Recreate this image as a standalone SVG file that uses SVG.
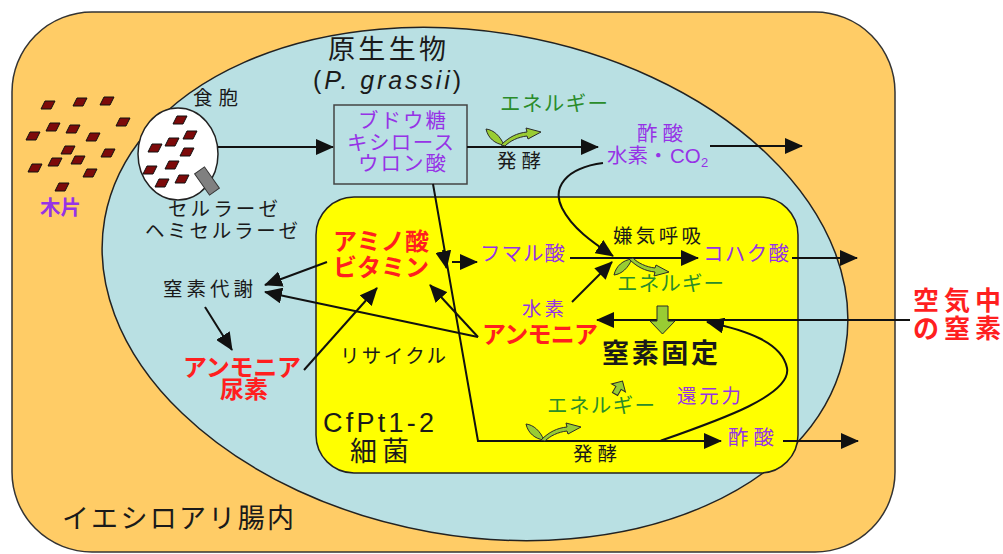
<svg xmlns="http://www.w3.org/2000/svg" xmlns:xlink="http://www.w3.org/1999/xlink" width="1003" height="554" viewBox="0 0 1003 554">
  <style>
    text { font-family: "Noto Sans CJK JP", "Noto Sans", sans-serif; fill: #1a1a1a; }
    .lat { font-family: "Liberation Sans", Arial, sans-serif; }
    .pur { fill: #9633e6; }
    .red { fill: #ff1f1f; font-weight: bold; }
    .grn { fill: #2a8c2a; }
    .s18 { font-size: 19.5px; }
    .s19 { font-size: 20.5px; }
    .s23 { font-size: 24px; }
    .s26 { font-size: 27px; }
    .ln { fill: none; stroke: #111; stroke-width: 2; }
    .arr { marker-end: url(#ah); }
    .leaf { fill: #99cc33; stroke: #2a2a2a; stroke-width: 1; }
    .chip { fill: #7d0a0a; stroke: #111; stroke-width: 1; }
  </style>
  <defs>
    <marker id="ah" viewBox="0 0 18 16" refX="17" refY="8" markerWidth="18" markerHeight="16" markerUnits="userSpaceOnUse" orient="auto">
      <path d="M0,0 L18,8 L0,16 Z" fill="#111"/>
    </marker>
    <polygon id="chipShape" class="chip" points="-7,4 -3,-4 7,-4 3,4"/>
    <!-- energy release symbol: leaf plus curved arrow -->
    <g id="energy">
      <path class="leaf" d="M1,1 C9,2 15,8 19,17 C10,16 3,10 1,1 Z"/>
      <path class="leaf" d="M16,17 C24,9 32,5 42,4 L41,0 L56,4 L43,11 L42,8 C33,9 25,13 20,18 Z"/>
    </g>
  </defs>

  <rect width="1003" height="554" fill="#ffffff"/>

  <!-- termite gut -->
  <g id="gut">
    <rect x="12" y="12" width="883" height="540" rx="80" ry="80" fill="#ffcc66" stroke="#333" stroke-width="1.5"/>
    <text class="s26" x="62" y="528" textLength="232" lengthAdjust="spacing">イエシロアリ腸内</text>
  </g>

  <!-- wood chips -->
  <g id="wood">
    <use xlink:href="#chipShape" x="48" y="105"/>
    <use xlink:href="#chipShape" x="80" y="102"/>
    <use xlink:href="#chipShape" x="107" y="101"/>
    <use xlink:href="#chipShape" x="123" y="122"/>
    <use xlink:href="#chipShape" x="53" y="127"/>
    <use xlink:href="#chipShape" x="73" y="129"/>
    <use xlink:href="#chipShape" x="33" y="136"/>
    <use xlink:href="#chipShape" x="93" y="137"/>
    <use xlink:href="#chipShape" x="68" y="150"/>
    <use xlink:href="#chipShape" x="108" y="153"/>
    <use xlink:href="#chipShape" x="55" y="162"/>
    <use xlink:href="#chipShape" x="78" y="160"/>
    <use xlink:href="#chipShape" x="35" y="168"/>
    <use xlink:href="#chipShape" x="90" y="173"/>
    <use xlink:href="#chipShape" x="62" y="187"/>
    <text class="pur s19" x="40" y="215" textLength="41" lengthAdjust="spacing" font-weight="bold">木片</text>
  </g>

  <!-- protist -->
  <g id="protist">
    <ellipse cx="475" cy="284" rx="376" ry="252" transform="rotate(10 475 284)" fill="#b9e0e3" stroke="#222" stroke-width="1.5"/>
    <text class="s26" x="328" y="59" textLength="118" lengthAdjust="spacing">原生生物</text>
    <text class="lat" x="313" y="89" font-size="25" textLength="148" lengthAdjust="spacing">(<tspan font-style="italic">P. grassii</tspan>)</text>
  </g>

  <!-- food vacuole -->
  <g id="vacuole">
    <ellipse cx="178" cy="154" rx="40" ry="46" fill="#ffffff" stroke="#222" stroke-width="1.5"/>
    <use xlink:href="#chipShape" x="180" y="120"/>
    <use xlink:href="#chipShape" x="190" y="135"/>
    <use xlink:href="#chipShape" x="172" y="142"/>
    <use xlink:href="#chipShape" x="155" y="148"/>
    <use xlink:href="#chipShape" x="187" y="152"/>
    <use xlink:href="#chipShape" x="172" y="165"/>
    <use xlink:href="#chipShape" x="150" y="170"/>
    <use xlink:href="#chipShape" x="162" y="183"/>
    <use xlink:href="#chipShape" x="182" y="179"/>
    <rect x="201" y="168" width="12" height="26" fill="#808080" stroke="#333" stroke-width="1" transform="rotate(-35 207 181)"/>
    <text class="s18" x="193" y="105" textLength="45" lengthAdjust="spacing">食胞</text>
    <text class="s18" x="168" y="216" textLength="110" lengthAdjust="spacing">セルラーゼ</text>
    <text class="s18" x="145" y="238" textLength="153" lengthAdjust="spacing">ヘミセルラーゼ</text>
  </g>

  <!-- sugars -->
  <g id="sugars">
    <rect x="334" y="105" width="133" height="79" fill="#b9e0e3" stroke="#444" stroke-width="1.5"/>
    <text class="pur s19" x="358" y="128" textLength="88" lengthAdjust="spacing">ブドウ糖</text>
    <text class="pur s19" x="347" y="150" textLength="107" lengthAdjust="spacing">キシロース</text>
    <text class="pur s19" x="358" y="171" textLength="88" lengthAdjust="spacing">ウロン酸</text>
  </g>

  <!-- protist fermentation products -->
  <g id="protist-products">
    <text class="pur s19" x="637" y="141" textLength="46" lengthAdjust="spacing">酢酸</text>
    <text class="pur s19" x="607" y="163">水素・<tspan class="lat" x="670">CO</tspan><tspan class="lat" x="701" dy="4" font-size="13">2</tspan></text>
  </g>

  <!-- bacterium -->
  <g id="bacterium">
    <rect x="316" y="197" width="482" height="276" rx="38" ry="38" fill="#ffff00" stroke="#222" stroke-width="1.5"/>
    <text class="lat" x="323" y="432" font-size="27" textLength="111" lengthAdjust="spacing">CfPt1-2</text>
    <text class="s26" x="350" y="461" textLength="59" lengthAdjust="spacing">細菌</text>
  </g>

  <g id="amino">
    <text class="red s23" x="333" y="250" textLength="96" lengthAdjust="spacing">アミノ酸</text>
    <text class="red s23" x="333" y="276" textLength="96" lengthAdjust="spacing">ビタミン</text>
  </g>
  <g id="fumarate"><text class="pur s19" x="480" y="261" textLength="85" lengthAdjust="spacing">フマル酸</text></g>
  <g id="respiration"><text class="s18" x="613" y="243" textLength="88" lengthAdjust="spacing">嫌気呼吸</text></g>
  <g id="succinate"><text class="pur s19" x="703" y="261" textLength="86" lengthAdjust="spacing">コハク酸</text></g>
  <g id="hydrogen"><text class="pur s18" x="522" y="316" textLength="42" lengthAdjust="spacing">水素</text></g>
  <g id="ammonia-bac"><text class="red s23" x="482" y="343" textLength="116" lengthAdjust="spacing">アンモニア</text></g>
  <g id="fixation">
    <text class="s26" x="602" y="363" font-weight="bold" textLength="116" lengthAdjust="spacing">窒素固定</text>
  </g>
  <g id="recycle"><text class="s18" x="340" y="363" textLength="106" lengthAdjust="spacing">リサイクル</text></g>
  <g id="reducing"><text class="pur s18" x="677" y="403" textLength="64" lengthAdjust="spacing">還元力</text></g>
  <g id="acetate-bac"><text class="pur s19" x="728" y="445" textLength="46" lengthAdjust="spacing">酢酸</text></g>
  <g id="n-metab"><text class="s18" x="163" y="296" textLength="90" lengthAdjust="spacing">窒素代謝</text></g>
  <g id="ammonia-urea">
    <text class="red s23" x="183" y="376" textLength="118" lengthAdjust="spacing">アンモニア</text>
    <text class="red s23" x="220" y="398" textLength="48" lengthAdjust="spacing">尿素</text>
  </g>
  <g id="air-n2">
    <text class="red" x="913" y="310" font-size="26" textLength="88" lengthAdjust="spacing">空気中</text>
    <text class="red" x="913" y="338" font-size="26" textLength="88" lengthAdjust="spacing">の窒素</text>
  </g>

  <!-- connectors -->
  <g id="connectors">
    <path class="ln arr" d="M218,147 H333"/>
    <path class="ln arr" d="M467,147 H598"/>
    <path class="ln arr" d="M710,146 H802"/>
    <path class="ln arr" d="M433,184 L478,441 H721"/>
    <path class="ln arr" d="M443,250 L446.5,268"/>
    <path class="ln arr" d="M452,262 H477"/>
    <path class="ln arr" d="M603,163 C565,168 552,188 562,208 C572,228 592,242 613,256"/>
    <path class="ln arr" d="M570,258 H698"/>
    <path class="ln arr" d="M572,302 L612,262"/>
    <path class="ln arr" d="M792,258 H857"/>
    <path class="ln arr" d="M910,320 H597"/>
    <path class="ln arr" d="M660,441 C720,420 792,395 787,368 C782,342 745,330 707,322"/>
    <path class="ln arr" d="M478,337 L430,285"/>
    <path class="ln arr" d="M478,337 L265,292"/>
    <path class="ln arr" d="M327,262 L265,285"/>
    <path class="ln arr" d="M304,370 L377,288"/>
    <path class="ln arr" d="M205,307 L232,350"/>
    <path class="ln arr" d="M783,441 H858"/>
  </g>

  <!-- energy labels and symbols -->
  <g id="energy-top">
    <use xlink:href="#energy" x="485" y="128"/>
    <text class="grn s19" x="500" y="111" textLength="108" lengthAdjust="spacing">エネルギー</text>
    <text class="s18" x="497" y="168" textLength="44" lengthAdjust="spacing">発酵</text>
  </g>
  <g id="energy-mid">
    <use xlink:href="#energy" transform="translate(613,276) scale(1,-1)"/>
    <text class="grn s19" x="617" y="291" textLength="107" lengthAdjust="spacing">エネルギー</text>
    <polygon class="leaf" points="657,306 668,306 668,321 675,321 662.5,334 650,321 657,321"/>
  </g>
  <g id="energy-bottom">
    <use xlink:href="#energy" x="525" y="423"/>
    <text class="grn s19" x="547" y="413" textLength="108" lengthAdjust="spacing">エネルギー</text>
    <text class="s18" x="573" y="461" textLength="44" lengthAdjust="spacing">発酵</text>
    <polygon class="leaf" points="-3,0 3,0 3,-7 8,-7 0,-15 -8,-7 -3,-7" transform="translate(615,394) rotate(30)"/>
  </g>
</svg>
